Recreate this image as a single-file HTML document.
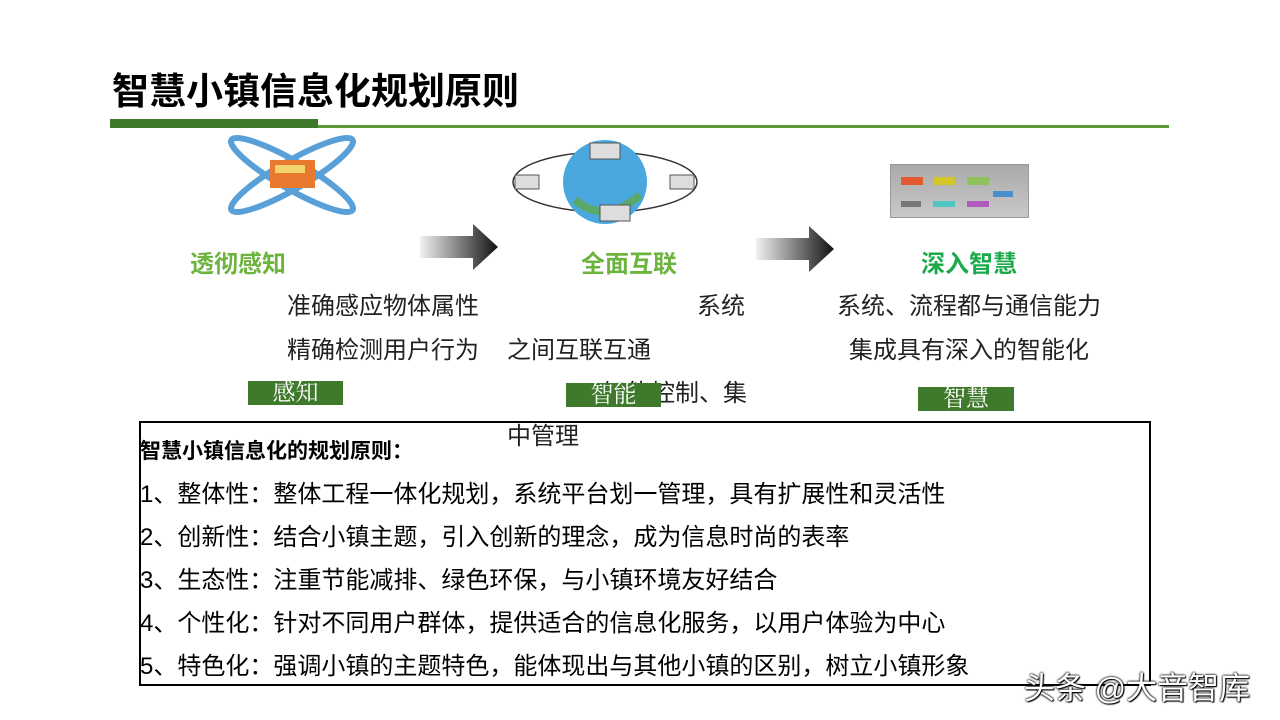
<!DOCTYPE html>
<html><head><meta charset="utf-8"><style>
body{margin:0;width:1280px;height:720px;background:#fff;position:relative;overflow:hidden;font-family:"Liberation Sans","Noto Sans CJK SC",sans-serif;}
.a{position:absolute;white-space:nowrap;}
.t{font-size:24px;color:#222;}
.g{font-size:24px;font-weight:bold;}
.tag{position:absolute;background:#3f7a2c;color:#fff;font-size:23px;text-align:center;line-height:24px;font-family:"Liberation Serif","Noto Serif CJK SC",serif;}
.arr{position:absolute;width:80px;height:46px;}
</style></head><body>
<div class="a" style="left:112px;top:61px;font-size:37px;font-weight:bold;color:#000;">智慧小镇信息化规划原则</div>
<div class="a" style="left:110px;top:119px;width:208px;height:9px;background:#3f7a2c;"></div>
<div class="a" style="left:318px;top:125px;width:851px;height:3px;background:#5a9a3a;"></div>

<svg class="a" style="left:215px;top:135px" width="155" height="80"><g fill="none" stroke="#5aa0d8" stroke-width="6"><ellipse cx="77" cy="40" rx="70" ry="14" transform="rotate(-30 77 40)"/><ellipse cx="77" cy="40" rx="70" ry="14" transform="rotate(30 77 40)"/></g><rect x="55" y="25" width="45" height="28" fill="#e8792e"/><rect x="60" y="30" width="30" height="8" fill="#f3d36b"/></svg>
<svg class="a" style="left:505px;top:140px" width="200" height="85"><ellipse cx="100" cy="42" rx="92" ry="30" fill="none" stroke="#333" stroke-width="1.5"/><circle cx="100" cy="42" r="42" fill="#4aa8df"/><path d="M70 60 Q100 85 135 55" stroke="#5aa86a" stroke-width="8" fill="none"/><rect x="85" y="3" width="30" height="16" fill="#ddd" stroke="#555"/><rect x="95" y="65" width="30" height="16" fill="#ddd" stroke="#555"/><rect x="10" y="35" width="24" height="14" fill="#ddd" stroke="#555"/><rect x="165" y="35" width="24" height="14" fill="#ddd" stroke="#555"/></svg>
<div class="a" style="left:890px;top:164px;width:137px;height:52px;background:linear-gradient(#aaa,#c8c8c8);border:1px solid #999;">
<div class="a" style="left:10px;top:12px;width:22px;height:8px;background:#e45a30"></div>
<div class="a" style="left:42px;top:12px;width:22px;height:8px;background:#d6c52a"></div>
<div class="a" style="left:76px;top:12px;width:22px;height:8px;background:#8fc15a"></div>
<div class="a" style="left:102px;top:26px;width:20px;height:6px;background:#4a8fd0"></div>
<div class="a" style="left:10px;top:36px;width:20px;height:6px;background:#777"></div>
<div class="a" style="left:42px;top:36px;width:22px;height:6px;background:#4fc7c0"></div>
<div class="a" style="left:76px;top:36px;width:22px;height:6px;background:#b05ac0"></div>
</div>

<svg class="arr" style="left:420px;top:224px" width="80" height="46"><defs><linearGradient id="gr"><stop offset="0" stop-color="#f2f2f2"/><stop offset="1" stop-color="#111"/></linearGradient></defs><path d="M0 12H53V0L78 23 53 46V34H0Z" fill="url(#gr)"/></svg>
<svg class="arr" style="left:756px;top:226px" width="80" height="46"><path d="M0 12H53V0L78 23 53 46V34H0Z" fill="url(#gr)"/></svg>

<div class="a g" style="left:190px;top:244px;color:#6db43f;">透彻感知</div>
<div class="a g" style="left:581px;top:244px;color:#6db43f;">全面互联</div>
<div class="a g" style="left:921px;top:244px;color:#1aaa4a;">深入智慧</div>

<div class="a t" style="left:287px;top:286px;">准确感应物体属性</div>
<div class="a t" style="left:287px;top:330px;">精确检测用户行为</div>
<div class="a t" style="left:697px;top:286px;">系统</div>
<div class="a t" style="left:507px;top:330px;">之间互联互通</div>
<div class="a t" style="left:603px;top:373px;">智能控制、集</div>
<div class="a t" style="left:507px;top:416px;">中管理</div>
<div class="a t" style="left:837px;top:286px;">系统、流程都与通信能力</div>
<div class="a t" style="left:849px;top:330px;">集成具有深入的智能化</div>

<div class="tag" style="left:248px;top:381px;width:95px;">感知</div>
<div class="tag" style="left:566px;top:383px;width:95px;">智能</div>
<div class="tag" style="left:918px;top:387px;width:96px;">智慧</div>

<div class="a" style="left:139px;top:421px;width:1008px;height:261px;border:2px solid #000;"></div>
<div class="a" style="left:140px;top:435px;font-size:21px;font-weight:bold;color:#000;">智慧小镇信息化的规划原则：</div>
<div class="a t" style="left:140px;top:474px;color:#000;">1、整体性：整体工程一体化规划，系统平台划一管理，具有扩展性和灵活性</div>
<div class="a t" style="left:140px;top:517px;color:#000;">2、创新性：结合小镇主题，引入创新的理念，成为信息时尚的表率</div>
<div class="a t" style="left:140px;top:560px;color:#000;">3、生态性：注重节能减排、绿色环保，与小镇环境友好结合</div>
<div class="a t" style="left:140px;top:603px;color:#000;">4、个性化：针对不同用户群体，提供适合的信息化服务，以用户体验为中心</div>
<div class="a t" style="left:140px;top:646px;color:#000;">5、特色化：强调小镇的主题特色，能体现出与其他小镇的区别，树立小镇形象</div>
<div class="a" style="left:1024px;top:663px;font-size:31px;color:#fff;text-shadow:0 0 2px #000,0 0 2px #000,1px 1px 1px #000;">头条 @大音智库</div>
</body></html>
